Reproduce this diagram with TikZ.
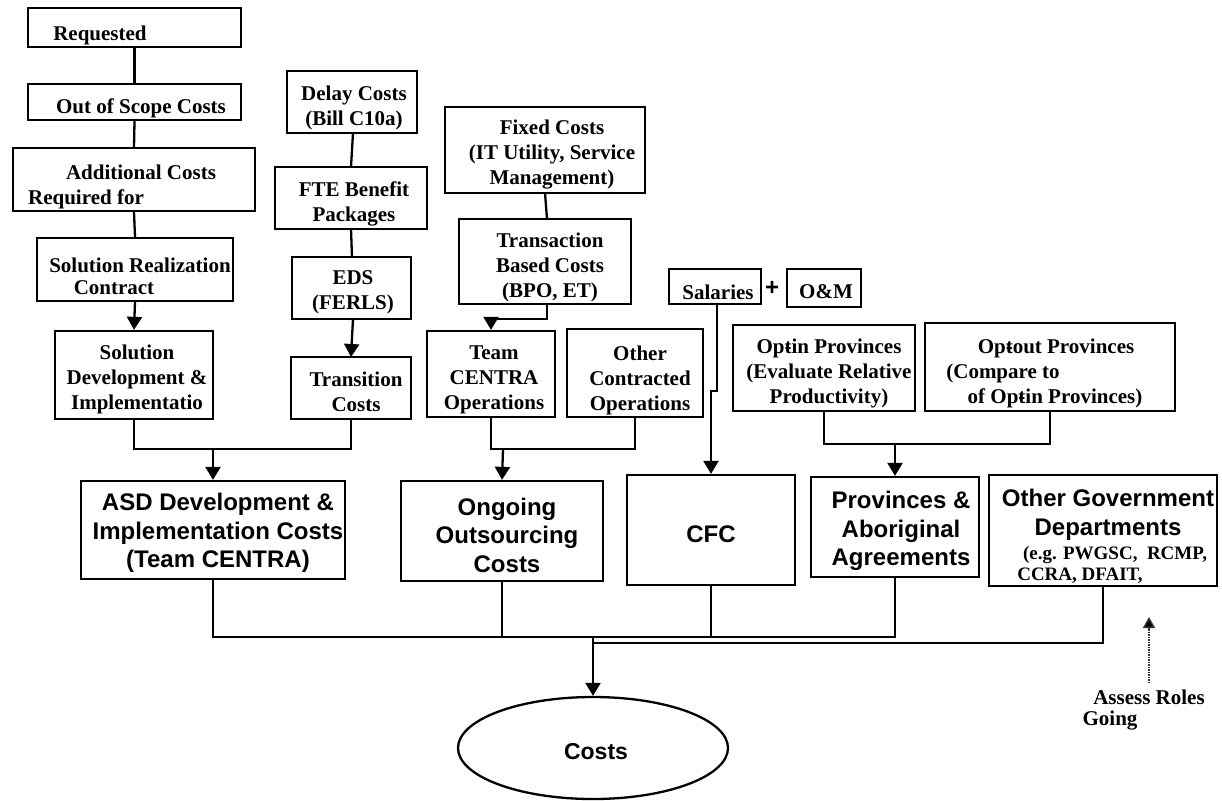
\documentclass[tikz,border=0pt]{standalone}
\usepackage{fontspec}
\setmainfont{Liberation Serif}
\newfontfamily\arialfont{Liberation Sans}
\usetikzlibrary{arrows.meta,shapes.geometric}

\tikzset{
  box/.style={draw, line width=2.3pt, rectangle, inner sep=0pt},
  oval/.style={draw, line width=2.3pt, ellipse, inner sep=0pt},
  conn/.style={line width=2.3pt},
  arr/.style={line width=2.3pt, -{Triangle[width=15pt,length=13pt]}},
  txt/.style={font=\bfseries\fontsize{21}{25}\selectfont, inner sep=0pt, align=center},
  smalltxt/.style={font=\bfseries\fontsize{19}{22}\selectfont, inner sep=0pt, align=center},
  bigtxt/.style={font=\arialfont\bfseries\fontsize{24}{28.5}\selectfont, inner sep=0pt, align=center},
  hint/.style={line width=1.5pt, densely dotted, black!80, -{Triangle[width=12pt,length=11pt,fill=black]}}
}

\newcommand{\optdash}{Opt\llap{-}}

\begin{document}
\begin{tikzpicture}[x=1pt, y=-1pt]
\useasboundingbox (0,0) rectangle (1222,800);

% ---------- left column: development chain ----------
\node[box, minimum width=213, minimum height=39] (req) at (134.5,27.5) {};
\node[box, minimum width=213, minimum height=36] (oos) at (134.5,102) {};
\node[box, minimum width=242, minimum height=63] (add) at (134,179.5) {};
\node[box, minimum width=196, minimum height=63] (src) at (135,269.5) {};
\node[box, minimum width=158, minimum height=88] (sdi) at (134,375) {};
\node[box, minimum width=264, minimum height=98] (asd) at (213,530) {};

\node[txt] (reqT) at (100,35) {Requested};
\node[txt] (oosT) at (141,108) {Out of Scope Costs};
\node[txt] (addT1) at (141,172) {Additional Costs};
\node[txt] (addT2) at (86,199) {Required for};
\node[txt] (srcT1) at (140,265) {Solution Realization};
\node[txt] (srcT2) at (114,288) {Contract};
\node[txt] (sdiT) at (137,379) {Solution\\Development \&\\Implementatio};
\node[bigtxt] (asdT) at (218,533) {ASD Development \&\\Implementation Costs\\(Team CENTRA)};

% ---------- transition chain ----------
\node[box, minimum width=130, minimum height=62] (delay) at (352,102) {};
\node[box, minimum width=152, minimum height=62] (fte) at (351,198) {};
\node[box, minimum width=119, minimum height=62] (eds) at (351.5,288) {};
\node[box, minimum width=120, minimum height=62] (trans) at (351,388) {};

\node[txt] (delayT) at (354,108) {Delay Costs\\(Bill C10a)};
\node[txt] (fteT) at (354,204) {FTE Benefit\\Packages};
\node[txt] (edsT) at (353,292) {EDS\\(FERLS)};
\node[txt] (transT) at (356,392) {Transition\\Costs};

% ---------- outsourcing chain ----------
\node[box, minimum width=200, minimum height=86] (fixed) at (545,150) {};
\node[box, minimum width=172, minimum height=85] (tbc) at (545,261.5) {};
\node[box, minimum width=128, minimum height=86] (team) at (491,374) {};
\node[box, minimum width=136, minimum height=88] (other) at (635,373) {};
\node[box, minimum width=202, minimum height=100] (ongo) at (502,531) {};

\node[txt] (fixedT) at (552,155) {Fixed Costs\\(IT Utility, Service\\Management)};
\node[txt] (tbcT) at (550,267) {Transaction\\Based Costs\\(BPO, ET)};
\node[txt] (teamT) at (494,380) {Team\\CENTRA\\Operations};
\node[txt] (otherT) at (640,380) {Other\\Contracted\\Operations};
\node[bigtxt] (ongoT) at (507,535) {Ongoing\\Outsourcing\\Costs};

% ---------- CFC ----------
\node[box, minimum width=92, minimum height=35] (sal) at (715,286.5) {};
\node[box, minimum width=74, minimum height=38] (om) at (824,288) {};
\node[box, minimum width=168, minimum height=110] (cfc) at (711,530) {};

\node[txt] (salT) at (718,292) {Salaries};
\node[bigtxt] (plus) at (772,288) {+};
\node[txt] (omT) at (826,292) {O\&M};
\node[bigtxt] (cfcT) at (711,534) {CFC};

% ---------- provinces ----------
\node[box, minimum width=182, minimum height=86] (optin) at (824,368) {};
\node[box, minimum width=250, minimum height=88] (optout) at (1050,367) {};
\node[box, minimum width=168, minimum height=100] (prov) at (895,527) {};

\node[txt] (optinT) at (829,373) {\optdash in Provinces\\(Evaluate Relative\\Productivity)};
\node[txt] (optoutT1) at (1056,348) {\optdash out Provinces};
\node[txt] (optoutT2) at (1003,373) {(Compare to};
\node[txt] (optoutT3) at (1055,398) {of \optdash in Provinces)};
\node[bigtxt] (provT) at (901,531) {Provinces \&\\Aboriginal\\Agreements};

% ---------- other government departments ----------
\node[box, minimum width=228, minimum height=111] (ogd) at (1103,530.5) {};
\node[bigtxt] (ogdT1) at (1108,515) {Other Government\\Departments};
\node[smalltxt] (ogdT2) at (1115,555) {(e.g. PWGSC,\ \ RCMP,};
\node[smalltxt] (ogdT3) at (1080,576) {CCRA, DFAIT,};

% ---------- total ----------
\node[oval, minimum width=270, minimum height=102] (costs) at (593,748) {};
\node[bigtxt, font=\arialfont\bfseries\fontsize{23}{27}\selectfont] (costsT) at (596,752) {Costs};

\node[txt] (assessT1) at (1149,697) {Assess Roles};
\node[txt] (assessT2) at (1110,721) {Going};

% ---------- junction points ----------
\coordinate (j1) at (213,449);
\coordinate (j2) at (503,449);
\coordinate (j3) at (895,444);
\coordinate (tj) at (547,319);
\coordinate (b1) at (593,637);
\coordinate (b2) at (593,643);
\coordinate (hintA) at (1149,683);
\coordinate (hintB) at (1149,617);

% ---------- connectors ----------
\draw[conn] (req.south) -- (oos.north);
\draw[conn] (oos.south) -- (add.north);
\draw[conn] (add.south) -- (src.north);
\draw[arr] (src.south) -- (sdi.north);
\draw[conn] (sdi.south) |- (j1) -| (trans.south);
\draw[arr] (j1) -- (asd.north);

\draw[conn] (353,133) -- (351,167);
\draw[conn] (351,229) -- (352,257);
\draw[arr] (353,319) -- (351,357);

\draw[conn] (545,193) -- (547,219);
\draw[arr] (547,304) -- (tj) -| (team.north);
\draw[conn] (team.south) |- (j2) -| (other.south);
\draw[arr] (j2) -- (ongo.north);

\draw[arr] (717,304) -- ++(0,87) -| (cfc.north);

\draw[conn] (optin.south) |- (j3) -| (optout.south);
\draw[arr] (j3) -- (prov.north);

\draw[conn] (asd.south) |- (b1) -| (prov.south);
\draw[conn] (ongo.south) -- (ongo.south |- b1);
\draw[conn] (cfc.south) -- (cfc.south |- b1);
\draw[conn] (ogd.south) |- (b2) -- (b1);
\draw[arr] (b1) -- (costs.north);

\draw[hint] (hintA) -- (hintB);

\end{tikzpicture}
\end{document}
